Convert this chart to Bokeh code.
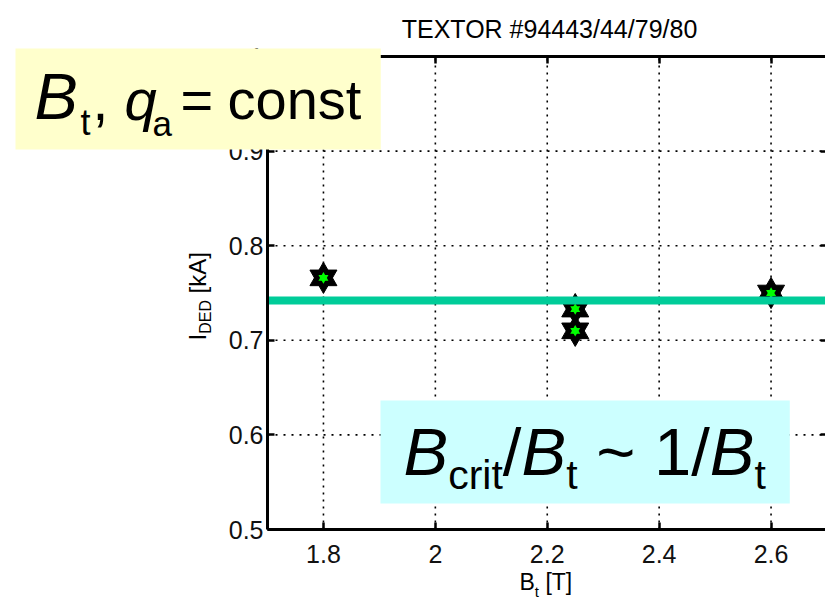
import math

from bokeh.embed import file_html
from bokeh.models import CustomJSTickFormatter, FixedTicker, Label, LinearAxis
from bokeh.plotting import figure
from bokeh.resources import INLINE

# ---- data -------------------------------------------------------------
bt_tesla = [1.8, 2.25, 2.25, 2.6]          # toroidal field B_t [T]
i_ded_ka = [0.766, 0.733, 0.710, 0.750]     # DED penetration current [kA]
i_ded_mean = 0.742                          # constant level [kA]

x_ticks = [1.8, 2.0, 2.2, 2.4, 2.6]
y_ticks = [0.5, 0.6, 0.7, 0.8, 0.9, 1.0]
x_lim = (1.7, 2.7)
y_lim = (0.5, 1.0)
title_text = "TEXTOR #94443/44/79/80"

# ---- geometry / style ---------------------------------------------------
W, H = 825, 600
AX_L, AX_B = 267, 529          # pixel position of the axes corner
PX_X, PX_Y = 559.5, 946.0      # pixels per data unit
FONT = "Liberation Sans"

# the frame fills the whole canvas; the axes sit inside it at fixed locations
XR = (x_lim[0] - AX_L / PX_X, x_lim[0] + (W - AX_L) / PX_X)
YR = (y_lim[0] - (H - AX_B) / PX_Y, y_lim[0] + AX_B / PX_Y)


def dx(px):
    return x_lim[0] + (px - AX_L) / PX_X


def dy(py):
    return y_lim[0] + (AX_B - py) / PX_Y


# Arial / Liberation Sans advance widths (per em)
ADV = {"B": .667, "t": .278, ",": .278, " ": .278, "q": .556, "a": .556,
       "=": .584, "c": .5, "o": .556, "n": .556, "s": .5, "r": .333,
       "i": .222, "/": .278, "~": .584, "1": .556, "I": .278, "D": .722,
       "E": .667, "[": .278, "k": .5, "A": .667, "]": .278, "T": .611}


def text_width(s, size):
    return sum(ADV[ch] for ch in s) * size


p = figure(width=W, height=H, x_range=XR, y_range=YR,
           x_axis_type=None, y_axis_type=None,
           output_backend="svg", toolbar_location=None,
           min_border=0)
p.outline_line_color = None
p.background_fill_color = "white"
p.border_fill_color = "white"
p.grid.visible = False

fmt = CustomJSTickFormatter(code="return String(tick);")
xt = FixedTicker(ticks=x_ticks)
yt = FixedTicker(ticks=y_ticks)


def make_axis(ticker, loc, bounds, show_labels):
    ax = LinearAxis(ticker=ticker, formatter=fmt, fixed_location=loc,
                    bounds=bounds, axis_line_width=3, axis_line_color="black",
                    major_tick_in=7, major_tick_out=0,
                    major_tick_line_width=2.5, major_tick_line_color="black",
                    minor_tick_line_color=None,
                    major_label_text_font=FONT,
                    major_label_text_font_size="25px",
                    major_label_text_color="#111111" if show_labels else None)
    return ax


bottom = make_axis(xt, y_lim[0], x_lim, True)
bottom.major_label_standoff = 15
left = make_axis(yt, x_lim[0], y_lim, True)
left.major_label_standoff = 4
p.add_layout(bottom, "below")
p.add_layout(left, "left")
p.add_layout(make_axis(xt, y_lim[1], x_lim, False), "above")
p.add_layout(make_axis(yt, x_lim[1], y_lim, False), "right")

# dotted grid inside the axes box
p.segment(x0=x_ticks, y0=[y_lim[0]] * len(x_ticks),
          x1=x_ticks, y1=[y_lim[1]] * len(x_ticks),
          line_color="black", line_width=1.6, line_dash="2 5", level="underlay")
p.segment(x0=[x_lim[0]] * len(y_ticks), y0=y_ticks,
          x1=[x_lim[1]] * len(y_ticks), y1=y_ticks,
          line_color="black", line_width=1.6, line_dash="2 6", level="underlay")

# hexagram markers: black outer star with a green core
for mk in ("triangle", "inverted_triangle"):
    p.scatter(bt_tesla, i_ded_ka, marker=mk, size=27,
              fill_color="black", line_color="black")
for mk in ("triangle", "inverted_triangle"):
    p.scatter(bt_tesla, i_ded_ka, marker=mk, size=10,
              fill_color="#00FF00", line_color=None)

# constant level across the axes
p.line(x=list(x_lim), y=[i_ded_mean, i_ded_mean],
       line_color="#00CC99", line_width=8)

BASE = 0.35   # alphabetic anchor offset, in em


def put(s, px, py, size, italic=False, rotated=False, align="left"):
    lead = len(s) - len(s.lstrip(" "))
    s = s.strip(" ")
    adv = text_width(" " * lead, size)
    if rotated:
        ax_, ay_ = px - BASE * size, py - adv
        angle = math.pi / 2
    else:
        ax_, ay_ = px + adv, py - BASE * size
        angle = 0.0
    p.add_layout(Label(x=dx(ax_), y=dy(ay_), text=s, text_font=FONT,
                       text_font_size=f"{size}px",
                       text_font_style="italic" if italic else "normal",
                       text_color="black", text_align=align,
                       text_baseline="alphabetic", angle=angle,
                       level="overlay"))


def run(pieces, px, py):
    """Lay out (text, size, italic, baseline shift) pieces left to right."""
    x = px
    for s, size, it, shift in pieces:
        put(s, x, py + shift, size, it)
        x += text_width(s, size)


def box(px0, py0, px1, py1, color):
    p.add_layout(Label(x=dx(px0), y=dy(py0), text=" ", text_font_size="1px",
                       text_align="left", text_baseline="top",
                       background_fill_color=color,
                       padding=dict(left=0, top=0, right=px1 - px0,
                                    bottom=py1 - py0),
                       level="overlay"))


# title
put(title_text, 549, 37, 25, align="center")

# x axis label: B_t [T]
run([("B", 23, False, 0), ("t", 15, False, 6), (" [T]", 23, False, 0)],
    519, 590)

# y axis label: I_DED [kA], rotated (reads upwards)
y = 340
for s, size, shift in (("I", 24, 0), ("DED", 16, 6), (" [kA]", 24, 0)):
    put(s, 205 + shift, y, size, rotated=True)
    y -= text_width(s, size)

# yellow note
box(15, 48, 380, 148, "#FFFFCC")
for s, size, it, px, py in (("B", 65, True, 34, 119),
                            ("t", 36, False, 80, 135),
                            (",", 57, False, 92, 119),
                            ("q", 58, True, 124, 119),
                            ("a", 35, False, 152, 135),
                            ("=", 56, False, 180, 119),
                            ("const", 56, False, 227, 119)):
    put(s, px, py, size, it)

# cyan note
box(380, 400, 789, 502, "#CCFFFF")
run([("B", 67, True, 0), ("crit", 41, False, 15), ("/", 67, False, 0),
     ("B", 67, True, 0), ("t", 41, False, 15), (" ~ 1/", 67, False, 0),
     ("B", 67, True, 0), ("t", 41, False, 15)],
    403, 474)

open("out.html", "w").write(file_html(p, INLINE))
